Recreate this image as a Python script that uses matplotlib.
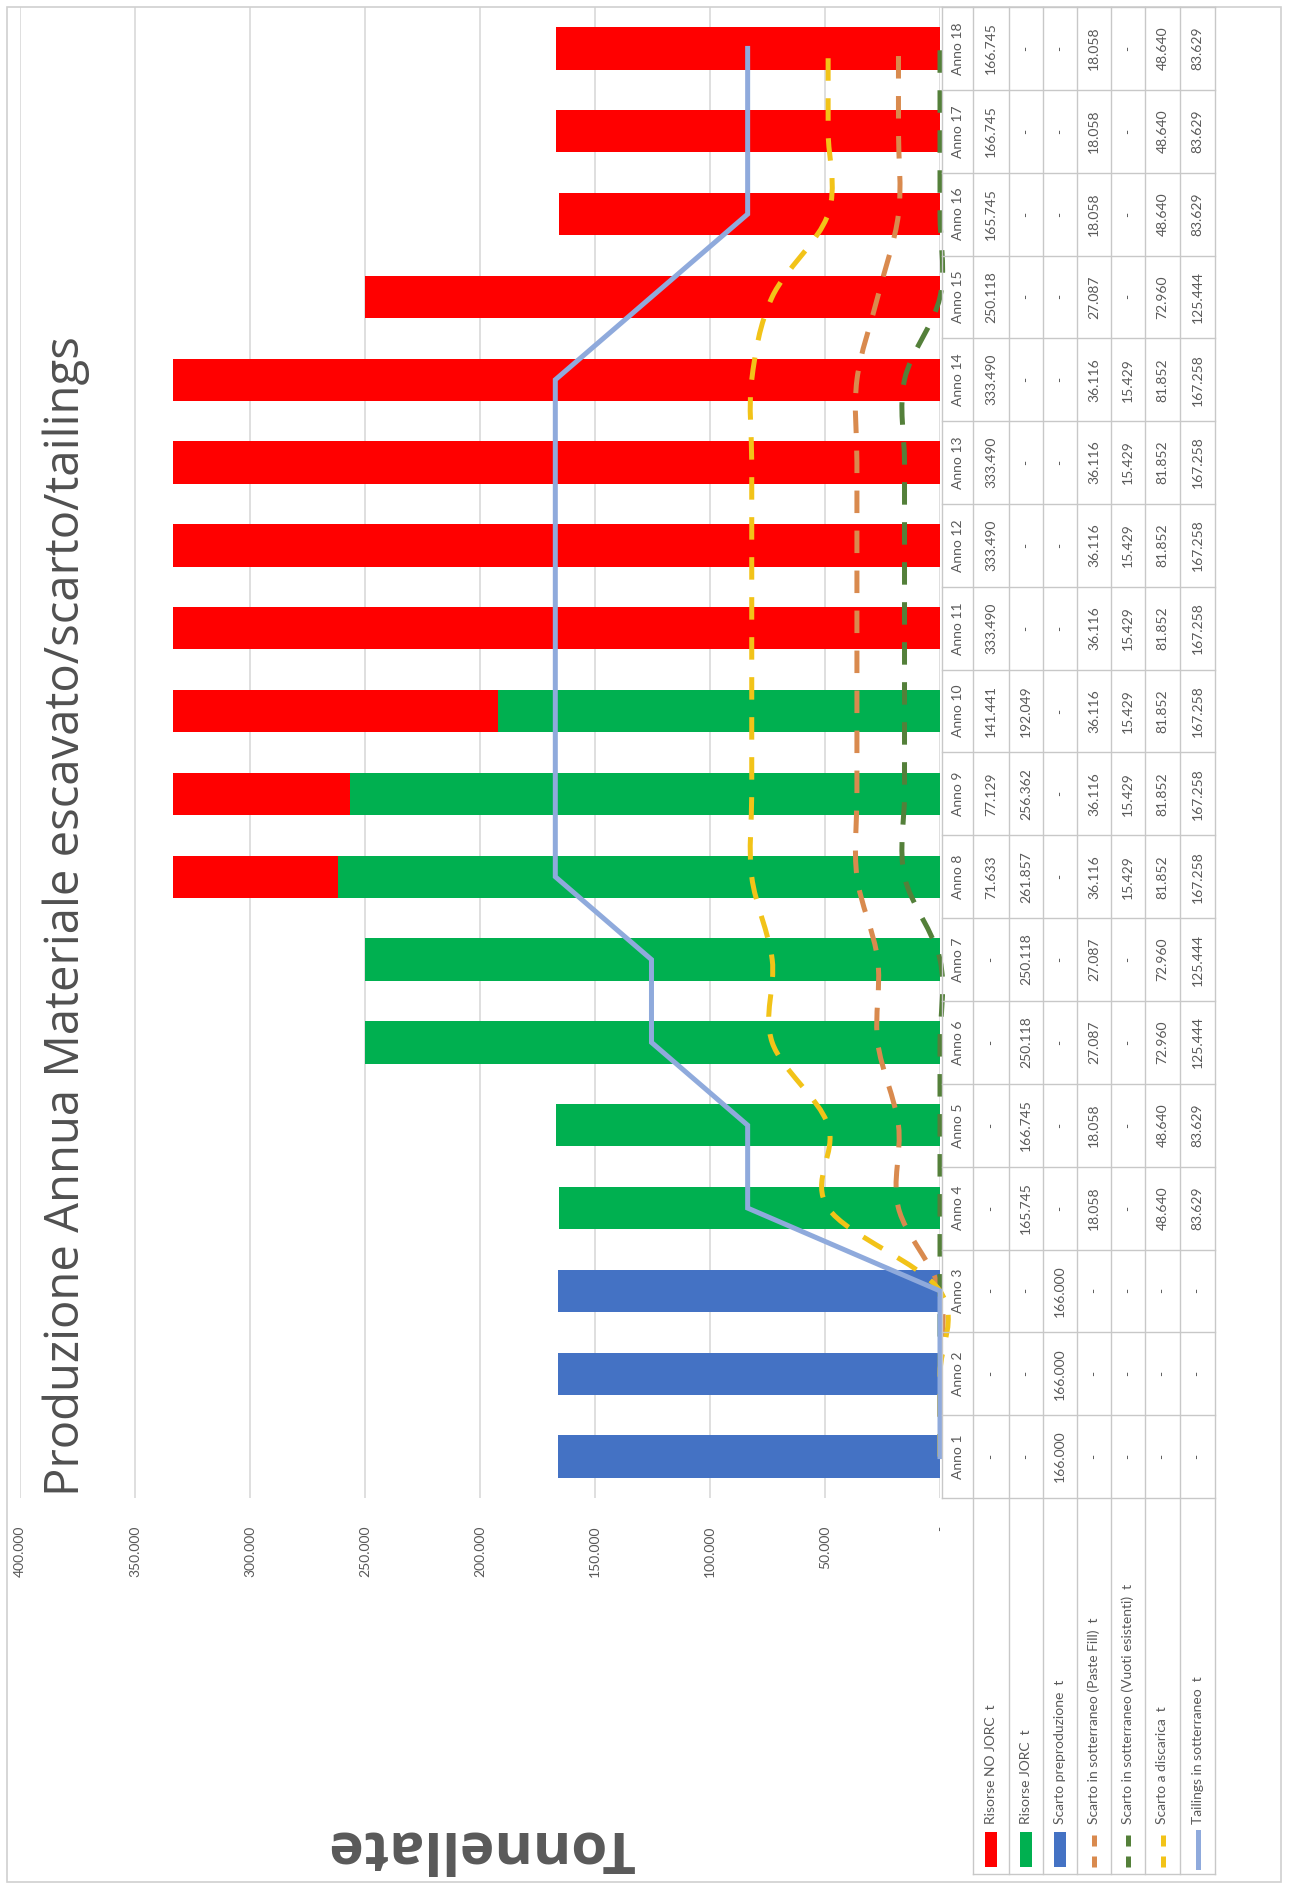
import numpy as np
import matplotlib
matplotlib.use("Agg")
import matplotlib.pyplot as plt
import matplotlib.transforms as mtransforms
from matplotlib.path import Path
from matplotlib.patches import PathPatch, Rectangle
from matplotlib.lines import Line2D

plt.rcParams['font.family'] = ['Lato', 'DejaVu Sans']

# ---- data -------------------------------------------------------------
years = ["Anno 1", "Anno 2", "Anno 3", "Anno 4", "Anno 5", "Anno 6",
         "Anno 7", "Anno 8", "Anno 9", "Anno 10", "Anno 11", "Anno 12",
         "Anno 13", "Anno 14", "Anno 15", "Anno 16", "Anno 17", "Anno 18"]

risorse_no_jorc = [0, 0, 0, 0, 0, 0, 0, 71633, 77129, 141441,
                   333490, 333490, 333490, 333490, 250118, 165745, 166745, 166745]
risorse_jorc = [0, 0, 0, 165745, 166745, 250118, 250118, 261857, 256362, 192049,
                0, 0, 0, 0, 0, 0, 0, 0]
scarto_preproduzione = [166000, 166000, 166000, 0, 0, 0, 0, 0, 0, 0,
                        0, 0, 0, 0, 0, 0, 0, 0]
scarto_paste_fill = [0, 0, 0, 18058, 18058, 27087, 27087, 36116, 36116, 36116,
                     36116, 36116, 36116, 36116, 27087, 18058, 18058, 18058]
scarto_vuoti = [0, 0, 0, 0, 0, 0, 0, 15429, 15429, 15429,
                15429, 15429, 15429, 15429, 0, 0, 0, 0]
scarto_discarica = [0, 0, 0, 48640, 48640, 72960, 72960, 81852, 81852, 81852,
                    81852, 81852, 81852, 81852, 72960, 48640, 48640, 48640]
tailings = [0, 0, 0, 83629, 83629, 125444, 125444, 167258, 167258, 167258,
            167258, 167258, 167258, 167258, 125444, 83629, 83629, 83629]

series_labels = ["Risorse NO JORC  t", "Risorse JORC  t", "Scarto preproduzione  t",
                 "Scarto in sotterraneo (Paste Fill)  t",
                 "Scarto in sotterraneo (Vuoti esistenti)  t",
                 "Scarto a discarica  t", "Tailings in sotterraneo  t"]
value_ticks = [0, 50000, 100000, 150000, 200000, 250000, 300000, 350000, 400000]

title = "Produzione Annua Materiale escavato/scarto/tailings"
axis_title = "Tonnellate"

# ---- style ------------------------------------------------------------
C_RED, C_GREEN, C_BLUE = "#FF0000", "#00B050", "#4472C4"
C_ORANGE, C_DKGREEN, C_YELLOW, C_LBLUE = "#D98A4E", "#54803A", "#F2C318", "#8FAADC"
TXT = "#595959"
GRID = "#D9D9D9"
W, H = 1292, 1892


def fx(px):
    return px / W


def fy(py):
    return 1 - py / H


def fmt(v):
    return "-" if v == 0 else f"{v:,}".replace(",", ".")


def smooth_path(xs, ys):
    """Cubic Bezier path through the points (Catmull-Rom style smoothing)."""
    p = np.column_stack([xs, ys]).astype(float)
    n = len(p)
    verts = [p[0]]
    codes = [Path.MOVETO]
    for i in range(n - 1):
        p0 = p[i - 1] if i > 0 else p[i]
        p3 = p[i + 2] if i + 2 < n else p[i + 1]
        c1 = p[i] + (p[i + 1] - p0) / 6.0
        c2 = p[i + 1] - (p3 - p[i]) / 6.0
        verts += [c1, c2, p[i + 1]]
        codes += [Path.CURVE4] * 3
    return Path(verts, codes)


fig = plt.figure(figsize=(W / 100, H / 100), dpi=100)
fig.patch.set_facecolor("white")

PLOT_L, PLOT_R, PLOT_T, PLOT_B = 20, 940, 7, 1498
ax = fig.add_axes([fx(PLOT_L), fy(PLOT_B), (PLOT_R - PLOT_L) / W, (PLOT_B - PLOT_T) / H])
ax.set_facecolor("none")

y = np.arange(1, len(years) + 1)
bh = 0.51
ax.barh(y, risorse_jorc, height=bh, color=C_GREEN, zorder=2)
ax.barh(y, risorse_no_jorc, left=risorse_jorc, height=bh, color=C_RED, zorder=2)
ax.barh(y, scarto_preproduzione, height=bh, color=C_BLUE, zorder=2)

lw = 3.6
dash = (0, (4.5, 3.5))
for vals, col in [(scarto_paste_fill, C_ORANGE), (scarto_vuoti, C_DKGREEN),
                  (scarto_discarica, C_YELLOW)]:
    ax.add_patch(PathPatch(smooth_path(vals, y), fill=False, edgecolor=col, lw=lw,
                           linestyle=dash, capstyle="butt", zorder=3, clip_on=False))
ax.plot(tailings, y, color=C_LBLUE, lw=lw, zorder=4, solid_joinstyle="miter", clip_on=False)

ax.set_xlim(400000, 0)
ax.set_ylim(0.5, len(years) + 0.5)
ax.set_xticks(value_ticks)
ax.set_xticklabels([fmt(v) for v in value_ticks], rotation=90, fontsize=10, color=TXT)
ax.tick_params(axis="x", length=0, pad=20)
ax.set_yticks([])
ax.xaxis.grid(True, color=GRID, lw=1.2, zorder=0)
ax.set_axisbelow(True)
for s in ax.spines.values():
    s.set_visible(False)

# ---- data table -------------------------------------------------------
blend = mtransforms.blended_transform_factory(fig.transFigure, ax.transData)
TAB_L = 942
row_edges = [973, 1009, 1043, 1077, 1111, 1145, 1180, 1215]
row_centers = [(a + b) / 2 for a, b in zip(row_edges[:-1], row_edges[1:])]
LEG_BOTTOM = 1874
TAB_COL = "#C8C8C8"

# category separators
for k in range(len(years) + 1):
    fig.add_artist(Line2D([fx(TAB_L), fx(row_edges[-1])], [k + 0.5, k + 0.5],
                          transform=blend, color=TAB_COL, lw=1))
# row separators
fig.add_artist(Line2D([fx(TAB_L), fx(TAB_L)], [fy(PLOT_T), fy(PLOT_B)],
                      color=TAB_COL, lw=1))
for xe in row_edges:
    fig.add_artist(Line2D([fx(xe), fx(xe)], [fy(PLOT_T), fy(LEG_BOTTOM)],
                          color=TAB_COL, lw=1))
fig.add_artist(Line2D([fx(row_edges[0]), fx(row_edges[-1])], [fy(LEG_BOTTOM), fy(LEG_BOTTOM)],
                      color=TAB_COL, lw=1))

tab_font = dict(rotation=90, ha="center", va="center", fontsize=10, color=TXT)
header_x = (TAB_L + row_edges[0]) / 2
table_rows = [risorse_no_jorc, risorse_jorc, scarto_preproduzione, scarto_paste_fill,
              scarto_vuoti, scarto_discarica, tailings]
for i, lab in enumerate(years):
    fig.text(fx(header_x), y[i], lab, transform=blend, **tab_font)
    for r, vals in enumerate(table_rows):
        fig.text(fx(row_centers[r]), y[i], fmt(vals[i]), transform=blend, **tab_font)

# legend keys and series names
KEY_T, KEY_B = 1832, 1867
key_styles = [("bar", C_RED), ("bar", C_GREEN), ("bar", C_BLUE),
              ("dash", C_ORANGE), ("dash", C_DKGREEN), ("dash", C_YELLOW), ("line", C_LBLUE)]
for r, (lab, (kind, col)) in enumerate(zip(series_labels, key_styles)):
    cx = row_centers[r]
    if kind == "bar":
        fig.add_artist(Rectangle((fx(cx - 6), fy(KEY_B)), 12 / W, (KEY_B - KEY_T) / H,
                                 facecolor=col, edgecolor="none"))
    else:
        ls = (0, (2.2, 2.0)) if kind == "dash" else "-"
        fig.add_artist(Line2D([fx(cx), fx(cx)], [fy(KEY_B), fy(KEY_T)], color=col,
                              lw=lw, linestyle=ls))
    fig.text(fx(cx), fy(KEY_T - 8), lab, rotation=90, rotation_mode="anchor",
             ha="left", va="center", fontsize=10, color=TXT)

# ---- titles -----------------------------------------------------------
fig.text(fx(66), fy(1496), title, rotation=90, rotation_mode="anchor", ha="left",
         va="center", fontsize=34, color="#505050", family=["Open Sans", "DejaVu Sans"])
fig.text(fx(480), fy(1846), axis_title, rotation=180, rotation_mode="anchor",
         ha="center", va="center", fontsize=42, fontweight="bold", color=TXT,
         family=["Open Sans", "DejaVu Sans"])

# chart frame
fig.add_artist(Rectangle((fx(7), fy(1882)), (1281 - 7) / W, (1882 - 7) / H,
                         facecolor="none", edgecolor="#D0D0D0", lw=1.2))

fig.savefig("out.png", dpi=100)
